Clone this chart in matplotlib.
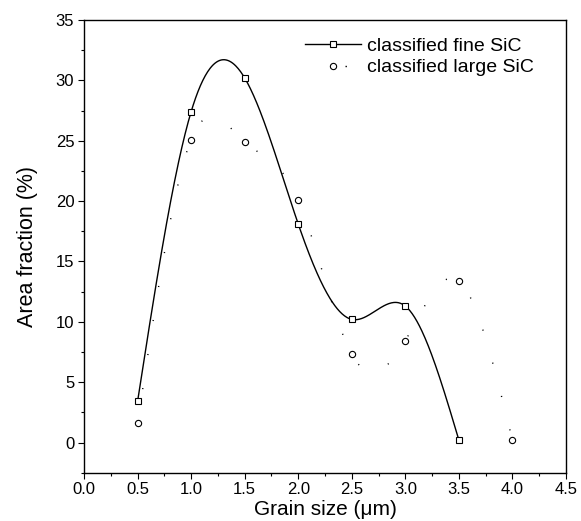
import numpy as np
import matplotlib
matplotlib.use("Agg")
import matplotlib.pyplot as plt
from matplotlib.ticker import MultipleLocator
from matplotlib.lines import Line2D

plt.rcParams['font.family'] = ['Liberation Sans', 'DejaVu Sans']

# data
grain_size = [0.5, 1.0, 1.5, 2.0, 2.5, 3.0, 3.5]
fine_sic = [3.4, 27.4, 30.2, 18.1, 10.2, 11.3, 0.2]
grain_size_large = [0.5, 1.0, 1.5, 2.0, 2.5, 3.0, 3.5, 4.0]
large_sic = [1.6, 25.1, 24.9, 20.1, 7.3, 8.45, 13.4, 0.2]
x_ticks = [0.0, 0.5, 1.0, 1.5, 2.0, 2.5, 3.0, 3.5, 4.0, 4.5]
y_ticks = [0, 5, 10, 15, 20, 25, 30, 35]


def natural_spline(x, y, n=400):
    x = np.asarray(x, float)
    y = np.asarray(y, float)
    k = len(x)
    h = np.diff(x)
    A = np.zeros((k, k))
    b = np.zeros(k)
    A[0, 0] = A[-1, -1] = 1
    for i in range(1, k - 1):
        A[i, i - 1] = h[i - 1]
        A[i, i] = 2 * (h[i - 1] + h[i])
        A[i, i + 1] = h[i]
        b[i] = 6 * ((y[i + 1] - y[i]) / h[i] - (y[i] - y[i - 1]) / h[i - 1])
    M = np.linalg.solve(A, b)
    xs = np.linspace(x[0], x[-1], n)
    idx = np.clip(np.searchsorted(x, xs) - 1, 0, k - 2)
    x0, x1 = x[idx], x[idx + 1]
    hh = x1 - x0
    t0, t1 = x1 - xs, xs - x0
    ys = (M[idx] * t0**3 + M[idx + 1] * t1**3) / (6 * hh) \
        + (y[idx] / hh - M[idx] * hh / 6) * t0 \
        + (y[idx + 1] / hh - M[idx + 1] * hh / 6) * t1
    return xs, ys


fig = plt.figure(figsize=(5.81, 5.21), dpi=100)
ax = fig.add_axes([0.1446, 0.0927, 0.8296, 0.8689])

xs, ys = natural_spline(grain_size, fine_sic)
ax.plot(xs, ys, color='black', lw=1.0)
ax.plot(grain_size, fine_sic, ls='none', marker='s', ms=4, mfc='white',
        mec='black', mew=0.8)

xl, yl = natural_spline(grain_size_large, large_sic)
ax.plot(xl, yl, color='black', lw=1.0, ls=(0, (0.8, 24)))
ax.plot(grain_size_large, large_sic, ls='none', marker='o', ms=4.5,
        mfc='white', mec='black', mew=0.8)

ax.set_xlim(0, 4.5)
ax.set_ylim(-2.5, 35)
ax.set_xticks(x_ticks)
ax.set_xticklabels([f"{v:.1f}" for v in x_ticks])
ax.set_yticks(y_ticks)
ax.xaxis.set_minor_locator(MultipleLocator(0.25))
ax.yaxis.set_minor_locator(MultipleLocator(2.5))
ax.tick_params(which='both', direction='out', labelsize=12, width=0.8)
ax.tick_params(which='major', length=4, pad=3)
ax.tick_params(which='minor', length=2.5)
for s in ax.spines.values():
    s.set_linewidth(1.0)

ax.set_xlabel('Grain size (\u03bcm)', fontsize=15, labelpad=2)
ax.set_ylabel('Area fraction (%)', fontsize=15.5, labelpad=13)

h1 = Line2D([], [], color='black', lw=1.0, marker='s', ms=4, mfc='white',
            mec='black', mew=0.8)
h2 = Line2D([], [], color='black', lw=1.0, ls=(22.2, (1, 50)), marker='o',
            ms=4.5, mfc='white', mec='black', mew=0.8)
ax.legend([h1, h2], ['classified fine SiC', 'classified large SiC'],
          loc='upper right', bbox_to_anchor=(0.933, 0.962), frameon=False,
          fontsize=14, handlelength=2.9, handletextpad=0.3,
          borderaxespad=0, borderpad=0, labelspacing=0.2)

fig.savefig('out.png', dpi=100)
